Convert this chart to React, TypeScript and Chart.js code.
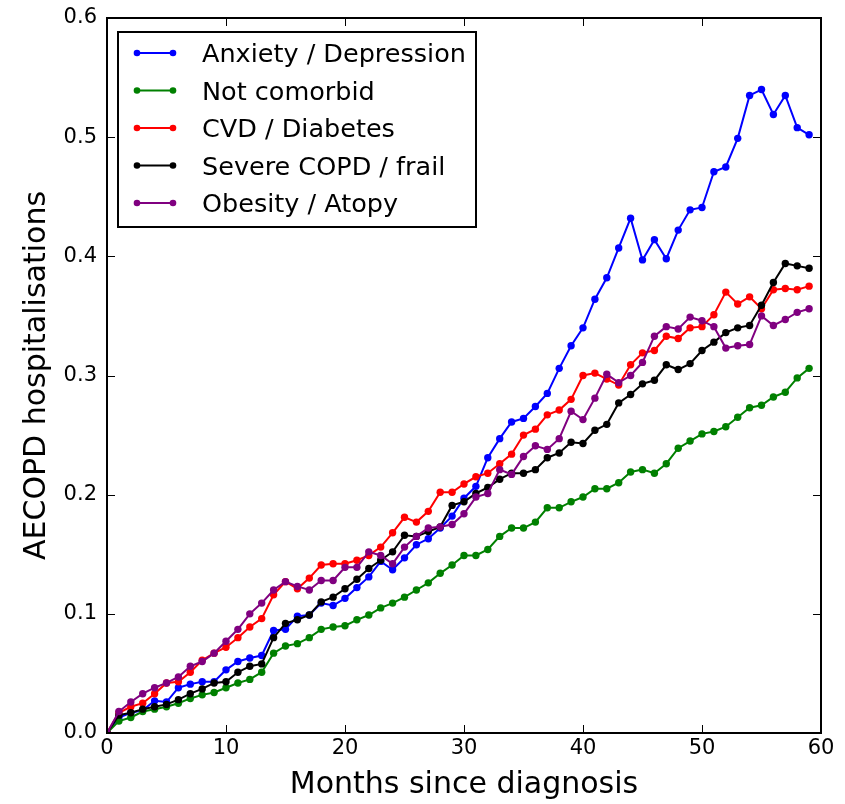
import React, { useEffect, useRef } from 'react';
import { Chart, registerables } from 'chart.js';

Chart.register(...registerables);

// Months since diagnosis (x categories)
const months = [
  0, 1, 2, 3, 4, 5, 6, 7, 8, 9,
  10, 11, 12, 13, 14, 15, 16, 17, 18, 19,
  20, 21, 22, 23, 24, 25, 26, 27, 28, 29,
  30, 31, 32, 33, 34, 35, 36, 37, 38, 39,
  40, 41, 42, 43, 44, 45, 46, 47, 48, 49,
  50, 51, 52, 53, 54, 55, 56, 57, 58, 59,
];

const anxietyDepression = [
  0, 0.013, 0.017, 0.019, 0.027, 0.026, 0.038, 0.041, 0.043, 0.043,
  0.053, 0.060, 0.063, 0.065, 0.086, 0.087, 0.098, 0.099, 0.109, 0.107,
  0.113, 0.122, 0.131, 0.144, 0.137, 0.147, 0.158, 0.163, 0.172, 0.182,
  0.197, 0.207, 0.231, 0.247, 0.261, 0.264, 0.274, 0.285, 0.306, 0.325,
  0.340, 0.364, 0.382, 0.407, 0.432, 0.397, 0.414, 0.398, 0.422, 0.439,
  0.441, 0.471, 0.475, 0.499, 0.535, 0.540, 0.519, 0.535, 0.508, 0.502,
];

const notComorbid = [
  0, 0.010, 0.013, 0.018, 0.020, 0.022, 0.025, 0.029, 0.032, 0.034,
  0.038, 0.042, 0.045, 0.051, 0.067, 0.073, 0.075, 0.080, 0.087, 0.089,
  0.090, 0.095, 0.099, 0.105, 0.109, 0.114, 0.120, 0.126, 0.134, 0.141,
  0.149, 0.149, 0.154, 0.165, 0.172, 0.172, 0.177, 0.189, 0.189, 0.194,
  0.198, 0.205, 0.205, 0.210, 0.219, 0.221, 0.218, 0.226, 0.239, 0.245,
  0.251, 0.253, 0.257, 0.265, 0.273, 0.275, 0.282, 0.286, 0.298, 0.306,
];

const cvdDiabetes = [
  0, 0.017, 0.022, 0.025, 0.033, 0.042, 0.043, 0.051, 0.061, 0.067,
  0.072, 0.080, 0.089, 0.096, 0.116, 0.127, 0.121, 0.130, 0.141, 0.142,
  0.142, 0.145, 0.149, 0.156, 0.168, 0.181, 0.177, 0.186, 0.202, 0.202,
  0.209, 0.215, 0.218, 0.226, 0.234, 0.250, 0.255, 0.267, 0.271, 0.280,
  0.300, 0.302, 0.297, 0.292, 0.309, 0.319, 0.321, 0.333, 0.331, 0.340,
  0.341, 0.351, 0.370, 0.360, 0.366, 0.356, 0.372, 0.373, 0.372, 0.375,
];

const severeCopdFrail = [
  0, 0.015, 0.017, 0.020, 0.022, 0.024, 0.028, 0.033, 0.037, 0.042,
  0.043, 0.051, 0.056, 0.058, 0.080, 0.092, 0.095, 0.099, 0.110, 0.114,
  0.121, 0.129, 0.138, 0.145, 0.152, 0.166, 0.165, 0.169, 0.173, 0.191,
  0.194, 0.201, 0.206, 0.213, 0.218, 0.218, 0.221, 0.231, 0.235, 0.244,
  0.243, 0.254, 0.259, 0.277, 0.284, 0.293, 0.296, 0.309, 0.305, 0.310,
  0.321, 0.328, 0.336, 0.340, 0.342, 0.359, 0.378, 0.394, 0.392, 0.390,
];

const obesityAtopy = [
  0, 0.018, 0.026, 0.033, 0.038, 0.042, 0.047, 0.056, 0.060, 0.067,
  0.077, 0.087, 0.100, 0.109, 0.120, 0.127, 0.123, 0.120, 0.128, 0.128,
  0.139, 0.139, 0.152, 0.149, 0.142, 0.156, 0.165, 0.172, 0.173, 0.175,
  0.184, 0.198, 0.201, 0.221, 0.217, 0.232, 0.241, 0.238, 0.247, 0.270,
  0.263, 0.281, 0.301, 0.294, 0.300, 0.311, 0.333, 0.341, 0.339, 0.349,
  0.346, 0.341, 0.323, 0.325, 0.326, 0.350, 0.342, 0.347, 0.353, 0.356,
];

const seriesLabels = [
  'Anxiety / Depression',
  'Not comorbid',
  'CVD / Diabetes',
  'Severe COPD / frail',
  'Obesity / Atopy',
];
const seriesValues = [anxietyDepression, notComorbid, cvdDiabetes, severeCopdFrail, obesityAtopy];
const seriesColors = ['#0000ff', '#008000', '#ff0000', '#000000', '#800080'];

const xTickValues = [0, 10, 20, 30, 40, 50, 60];
const yTickValues = [0, 0.1, 0.2, 0.3, 0.4, 0.5, 0.6];

const FONT = '"DejaVu Sans", "Liberation Sans", sans-serif';

const framePlugin = {
  id: 'mplFrame',
  afterDatasetsDraw(chart: any) {
    const { ctx, chartArea: a, scales } = chart;
    ctx.save();
    // inward ticks on all four sides
    ctx.strokeStyle = '#000';
    ctx.lineWidth = 1;
    const tl = 8;
    ctx.beginPath();
    for (const v of xTickValues) {
      const px = Math.round(scales.x.getPixelForValue(v)) + 0.5;
      ctx.moveTo(px, a.bottom);
      ctx.lineTo(px, a.bottom - tl);
      ctx.moveTo(px, a.top);
      ctx.lineTo(px, a.top + tl);
    }
    for (const v of yTickValues) {
      const py = Math.round(scales.y.getPixelForValue(v)) + 0.5;
      ctx.moveTo(a.left, py);
      ctx.lineTo(a.left + tl, py);
      ctx.moveTo(a.right, py);
      ctx.lineTo(a.right - tl, py);
    }
    ctx.stroke();
    // frame
    ctx.lineWidth = 2;
    ctx.strokeRect(a.left, a.top, a.right - a.left, a.bottom - a.top);

    // legend (upper left, inside axes)
    const lx = a.left + 11;
    const ly = a.top + 14;
    const lw = 358;
    const lh = 195;
    ctx.fillStyle = '#fff';
    ctx.fillRect(lx, ly, lw, lh);
    ctx.strokeStyle = '#000';
    ctx.lineWidth = 2;
    ctx.strokeRect(lx, ly, lw, lh);
    ctx.font = `25.5px ${FONT}`;
    ctx.textAlign = 'left';
    ctx.textBaseline = 'alphabetic';
    chart.data.datasets.forEach((ds: any, i: number) => {
      const ry = ly + 21 + i * 37.5;
      const x1 = lx + 19;
      const x2 = lx + 55;
      ctx.strokeStyle = ds.borderColor;
      ctx.lineWidth = 2;
      ctx.beginPath();
      ctx.moveTo(x1, ry);
      ctx.lineTo(x2, ry);
      ctx.stroke();
      ctx.fillStyle = ds.borderColor;
      for (const mx of [x1, x2]) {
        ctx.beginPath();
        ctx.arc(mx, ry, 3.3, 0, Math.PI * 2);
        ctx.fill();
      }
      ctx.fillStyle = '#000';
      ctx.fillText(ds.label, lx + 84, ry + 9);
    });
    ctx.restore();
  },
};

export default function App() {
  const canvasRef = useRef<HTMLCanvasElement | null>(null);

  useEffect(() => {
    if (!canvasRef.current) return;
    const datasets = seriesLabels.map((label, si) => ({
      label,
      data: months.map((m, i) => ({ x: m, y: seriesValues[si][i] })),
      borderColor: seriesColors[si],
      backgroundColor: seriesColors[si],
      pointBackgroundColor: seriesColors[si],
      pointBorderColor: seriesColors[si],
      pointBorderWidth: 0,
      pointRadius: 3.7,
      borderWidth: 2,
      tension: 0,
      fill: false,
      order: seriesLabels.length - si,
    }));

    const chart = new Chart(canvasRef.current, {
      type: 'line',
      data: { datasets },
      options: {
        responsive: false,
        animation: false,
        events: [],
        layout: { padding: { top: 18, right: 24, left: 0, bottom: 0 } },
        plugins: {
          legend: { display: false },
          tooltip: { enabled: false },
        },
        scales: {
          x: {
            type: 'linear',
            min: 0,
            max: 60,
            afterBuildTicks: (s: any) => {
              s.ticks = xTickValues.map((v) => ({ value: v }));
            },
            afterFit: (s: any) => {
              s.height = 71;
              s.paddingLeft = 0;
              s.paddingRight = 0;
            },
            grid: { display: false, drawTicks: false },
            border: { display: false },
            ticks: {
              color: '#000',
              font: { family: FONT, size: 21 },
              padding: 3,
              maxRotation: 0,
              autoSkip: false,
              callback: (v: any) => String(v),
            },
            title: {
              display: true,
              text: 'Months since diagnosis',
              color: '#000',
              font: { family: FONT, size: 30 },
              padding: { top: 0, bottom: 1 },
            },
          },
          y: {
            type: 'linear',
            min: 0,
            max: 0.6,
            afterBuildTicks: (s: any) => {
              s.ticks = yTickValues.map((v) => ({ value: v }));
            },
            afterFit: (s: any) => {
              s.width = 107;
              s.paddingTop = 0;
              s.paddingBottom = 0;
            },
            grid: { display: false, drawTicks: false },
            border: { display: false },
            ticks: {
              color: '#000',
              font: { family: FONT, size: 21 },
              padding: 10,
              autoSkip: false,
              callback: (v: any) => Number(v).toFixed(1),
            },
            title: {
              display: true,
              text: 'AECOPD hospitalisations',
              color: '#000',
              font: { family: FONT, size: 30 },
              padding: { top: 19, bottom: 0 },
            },
          },
        },
      },
      plugins: [framePlugin],
    } as any);

    return () => chart.destroy();
  }, []);

  return (
    <div style={{ position: 'absolute', left: 0, top: 0, width: 845, height: 804, background: '#fff' }}>
      <canvas ref={canvasRef} width={845} height={804} style={{ display: 'block' }} />
    </div>
  );
}
